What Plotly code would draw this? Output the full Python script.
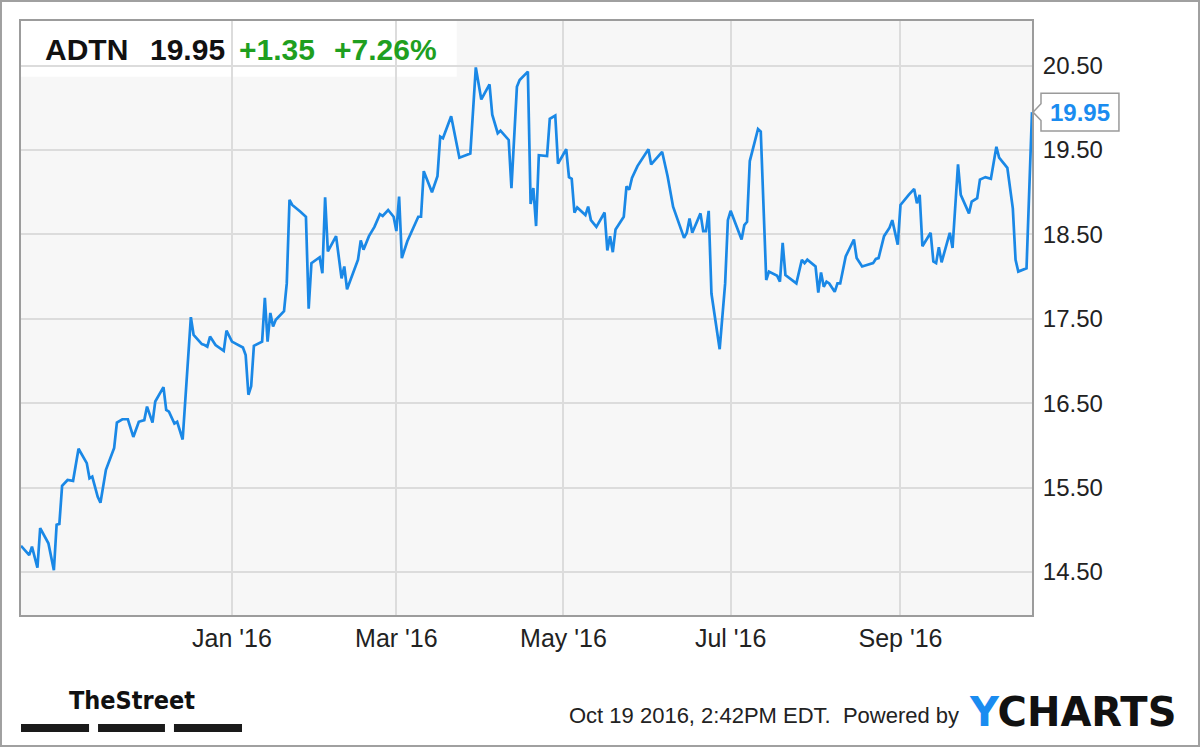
import plotly.graph_objects as go

# ---------------- data ----------------
ticker = "ADTN"
last_price = 19.95
price_change = 1.35
pct_change = 7.26
timestamp = "Oct 19 2016, 2:42PM EDT."

dates = [
    "2015-10-16", "2015-10-19", "2015-10-20", "2015-10-22", "2015-10-23", "2015-10-26", "2015-10-28", "2015-10-29", "2015-10-30", "2015-10-31",
    "2015-11-02", "2015-11-04", "2015-11-06", "2015-11-09", "2015-11-10", "2015-11-11", "2015-11-13", "2015-11-14", "2015-11-16", "2015-11-19",
    "2015-11-20", "2015-11-22", "2015-11-24", "2015-11-26", "2015-11-28", "2015-11-30",
    "2015-12-01", "2015-12-03", "2015-12-04", "2015-12-07", "2015-12-08", "2015-12-09", "2015-12-11", "2015-12-12", "2015-12-14", "2015-12-17",
    "2015-12-18", "2015-12-21", "2015-12-22", "2015-12-23", "2015-12-24", "2015-12-26", "2015-12-29", "2015-12-30",
    "2016-01-01", "2016-01-05", "2016-01-06", "2016-01-07", "2016-01-08", "2016-01-09", "2016-01-12", "2016-01-13", "2016-01-14", "2016-01-15",
    "2016-01-16", "2016-01-17", "2016-01-20", "2016-01-21", "2016-01-22", "2016-01-23", "2016-01-26", "2016-01-28", "2016-01-29", "2016-01-30",
    "2016-02-02", "2016-02-03", "2016-02-04", "2016-02-05", "2016-02-08", "2016-02-10", "2016-02-11", "2016-02-12", "2016-02-16", "2016-02-17",
    "2016-02-18", "2016-02-20", "2016-02-22", "2016-02-24", "2016-02-25", "2016-02-27", "2016-02-29",
    "2016-03-01", "2016-03-02", "2016-03-03", "2016-03-05", "2016-03-08", "2016-03-09", "2016-03-10", "2016-03-11", "2016-03-14", "2016-03-16",
    "2016-03-17", "2016-03-18", "2016-03-21", "2016-03-24", "2016-03-28", "2016-03-30",
    "2016-04-01", "2016-04-04", "2016-04-05", "2016-04-07", "2016-04-08", "2016-04-11", "2016-04-12", "2016-04-14", "2016-04-15", "2016-04-18",
    "2016-04-19", "2016-04-20", "2016-04-21", "2016-04-22", "2016-04-25", "2016-04-26", "2016-04-28", "2016-04-29",
    "2016-05-02", "2016-05-03", "2016-05-04", "2016-05-05", "2016-05-06", "2016-05-09", "2016-05-10", "2016-05-11", "2016-05-13", "2016-05-16",
    "2016-05-17", "2016-05-18", "2016-05-19", "2016-05-20", "2016-05-23", "2016-05-24", "2016-05-25", "2016-05-26", "2016-05-28",
    "2016-06-01", "2016-06-02", "2016-06-06", "2016-06-08", "2016-06-10", "2016-06-14", "2016-06-15", "2016-06-16", "2016-06-17", "2016-06-20",
    "2016-06-21", "2016-06-22", "2016-06-23", "2016-06-24", "2016-06-27", "2016-06-29", "2016-06-30",
    "2016-07-01", "2016-07-05", "2016-07-06", "2016-07-07", "2016-07-08", "2016-07-11", "2016-07-12", "2016-07-14", "2016-07-15", "2016-07-18",
    "2016-07-19", "2016-07-20", "2016-07-21", "2016-07-25", "2016-07-27", "2016-07-28", "2016-07-29",
    "2016-08-01", "2016-08-02", "2016-08-03", "2016-08-04", "2016-08-05", "2016-08-06", "2016-08-08", "2016-08-09", "2016-08-10", "2016-08-12",
    "2016-08-15", "2016-08-16", "2016-08-18", "2016-08-22", "2016-08-23", "2016-08-24", "2016-08-26", "2016-08-28", "2016-08-29", "2016-08-31",
    "2016-09-01", "2016-09-04", "2016-09-06", "2016-09-07", "2016-09-08", "2016-09-09", "2016-09-12", "2016-09-13", "2016-09-14", "2016-09-15",
    "2016-09-16", "2016-09-19", "2016-09-20", "2016-09-22", "2016-09-23", "2016-09-26", "2016-09-27", "2016-09-29", "2016-09-30",
    "2016-10-02", "2016-10-04", "2016-10-06", "2016-10-07", "2016-10-10", "2016-10-12", "2016-10-13", "2016-10-14", "2016-10-17", "2016-10-19",
]

prices = [
    14.81, 14.70, 14.80, 14.55, 15.02, 14.84, 14.52, 15.06, 15.07, 15.52,
    15.59, 15.58, 15.96, 15.79, 15.61, 15.63, 15.39, 15.32, 15.71, 15.97, 16.27, 16.31, 16.31, 16.10, 16.28, 16.30,
    16.46, 16.27, 16.52, 16.69, 16.42, 16.40, 16.26, 16.28, 16.07, 17.52, 17.31, 17.20, 17.19, 17.17, 17.29, 17.19, 17.12, 17.36,
    17.23, 17.16, 17.07, 16.60, 16.70, 17.18, 17.23, 17.75, 17.23, 17.57, 17.41, 17.49, 17.59, 17.92, 18.91, 18.85, 18.77, 18.71, 17.62, 18.16,
    18.23, 18.04, 18.94, 18.30, 18.48, 17.98, 18.12, 17.85, 18.20, 18.43, 18.32, 18.48, 18.59, 18.74, 18.72, 18.79, 18.71,
    18.54, 18.95, 18.22, 18.42, 18.63, 18.71, 18.71, 19.25, 19.00, 19.19, 19.66, 19.64, 19.90, 19.41, 19.46, 20.48,
    20.10, 20.28, 19.92, 19.70, 19.73, 19.62, 19.05, 20.25, 20.33, 20.43, 18.86, 19.05, 18.60, 19.44, 19.43, 19.87, 19.91, 19.34,
    19.51, 19.18, 19.16, 18.76, 18.82, 18.73, 18.83, 18.67, 18.59, 18.76, 18.31, 18.48, 18.29, 18.56, 18.71, 19.07, 19.03, 19.17, 19.31,
    19.51, 19.33, 19.48, 19.19, 18.83, 18.46, 18.52, 18.69, 18.52, 18.75, 18.54, 18.54, 18.78, 17.80, 17.14, 17.92, 18.67,
    18.78, 18.44, 18.61, 18.65, 19.37, 19.75, 19.72, 17.96, 18.06, 18.01, 17.94, 18.40, 18.02, 17.92, 18.20, 18.16, 18.20,
    18.12, 17.81, 18.05, 17.88, 17.94, 17.92, 17.82, 17.92, 17.92, 18.24, 18.44, 18.22, 18.12, 18.16, 18.21, 18.22, 18.48, 18.58, 18.67, 18.38,
    18.85, 18.97, 19.04, 18.87, 18.97, 18.36, 18.52, 18.18, 18.16, 18.35, 18.17, 18.52, 18.34, 19.33, 18.97, 18.75, 18.89, 18.93, 19.15,
    19.18, 19.16, 19.54, 19.41, 19.29, 18.81, 18.20, 18.06, 18.10, 19.95,
]

x_tick_vals = ["2016-01-01", "2016-03-01", "2016-05-01", "2016-07-01", "2016-09-01"]
x_tick_labels = ["Jan '16", "Mar '16", "May '16", "Jul '16", "Sep '16"]
y_tick_vals = [14.5, 15.5, 16.5, 17.5, 18.5, 19.5, 20.5]
y_tick_labels = ["14.50", "15.50", "16.50", "17.50", "18.50", "19.50", "20.50"]

# ---------------- styling ----------------
LINE_BLUE = "#1a88e6"
TEXT_BLUE = "#1a8cf0"
GREEN = "#1f9f1f"
FONT = "Liberation Sans, Arial, Helvetica, sans-serif"
GRID = "#dcdcdc"
FRAME = "#9c9c9c"

fig = go.Figure()
fig.add_trace(go.Scatter(
    x=dates, y=prices, mode="lines",
    line=dict(color=LINE_BLUE, width=2.7),
    hoverinfo="x+y", cliponaxis=False,
))

fig.update_layout(
    width=1200, height=747,
    margin=dict(l=21, r=168, t=21, b=132),
    paper_bgcolor="white", plot_bgcolor="#f7f7f7",
    showlegend=False,
    font=dict(family=FONT, color="#222222"),
)
fig.update_xaxes(
    type="date", range=["2015-10-16", "2016-10-19"],
    tickmode="array", tickvals=x_tick_vals, ticktext=x_tick_labels,
    showgrid=True, gridcolor=GRID, gridwidth=1.5,
    showline=True, linecolor=FRAME, linewidth=2, mirror=True,
    ticks="", ticklabelstandoff=0, zeroline=False,
    tickfont=dict(size=25, color="#222222", family=FONT),
)
fig.update_yaxes(
    side="right", range=[13.99, 21.03],
    tickmode="array", tickvals=y_tick_vals, ticktext=y_tick_labels,
    showgrid=True, gridcolor=GRID, gridwidth=1.5,
    showline=True, linecolor=FRAME, linewidth=2, mirror=True,
    ticks="", ticklabelstandoff=4, zeroline=False,
    tickfont=dict(size=24, color="#222222", family=FONT),
)

shapes = []
# outer frame of the whole image
shapes.append(dict(type="rect", xref="paper", yref="paper",
                   x0=-0.0198, x1=1.1652, y0=-0.2205, y1=1.0337,
                   line=dict(color="#a0a0a0", width=2), fillcolor="rgba(0,0,0,0)", layer="above"))
# header box (under the grid)
shapes.append(dict(type="rect", xref="paper", yref="paper",
                   x0=0, x1=0.431, y0=0.906, y1=1.0,
                   line=dict(width=0), fillcolor="white", layer="below"))
# last-price callout box with pointer
hh, notch = 0.225, 0.10
x0, x1, tip = 1.0089, 1.0860, 1.0010
lp = prices[-1]
path = (f"M {x0},{lp + hh} L {x1},{lp + hh} L {x1},{lp - hh} L {x0},{lp - hh} "
        f"L {x0},{lp - notch} L {tip},{lp} L {x0},{lp + notch} Z")
shapes.append(dict(type="path", xref="paper", yref="y", path=path,
                   line=dict(color="#9a9a9a", width=1.5), fillcolor="white", layer="above"))
# TheStreet logo bars
for bx0, bx1 in [(0.0, 0.0673), (0.0762, 0.1424), (0.1513, 0.2186)]:
    shapes.append(dict(type="rect", xref="paper", yref="paper",
                       x0=bx0, x1=bx1, y0=-0.1970, y1=-0.1835,
                       line=dict(width=0), fillcolor="#1a1a1a", layer="above"))
fig.update_layout(shapes=shapes)

ann = []
hdr_y = 0.9517
ann.append(dict(text=f"<b>{ticker}</b>", x=0.0218, y=hdr_y, xref="paper", yref="paper",
                xanchor="left", yanchor="middle", showarrow=False,
                font=dict(size=30, color="#111111", family=FONT)))
ann.append(dict(text=f"<b>{last_price:.2f}</b>", x=0.1256, y=hdr_y, xref="paper", yref="paper",
                xanchor="left", yanchor="middle", showarrow=False,
                font=dict(size=30, color="#111111", family=FONT)))
ann.append(dict(text=f"<b>+{price_change:.2f}</b>", x=0.2136, y=hdr_y, xref="paper", yref="paper",
                xanchor="left", yanchor="middle", showarrow=False,
                font=dict(size=30, color=GREEN, family=FONT)))
ann.append(dict(text=f"<b>+{pct_change:.2f}%</b>", x=0.3076, y=hdr_y, xref="paper", yref="paper",
                xanchor="left", yanchor="middle", showarrow=False,
                font=dict(size=30, color=GREEN, family=FONT)))
# callout text
ann.append(dict(text=f"<b>{last_price:.2f}</b>", x=1.0475, y=lp, xref="paper", yref="y",
                xanchor="center", yanchor="middle", showarrow=False,
                font=dict(size=24, color=TEXT_BLUE, family=FONT)))
# TheStreet logo text
ann.append(dict(text="<b>TheStreet</b>", x=0.1098, y=-0.1431, xref="paper", yref="paper",
                xanchor="center", yanchor="middle", showarrow=False,
                font=dict(size=25, color="#111111",
                          family="DejaVu Sans Condensed, Liberation Sans Narrow, Arial Narrow, Liberation Sans, sans-serif")))
# footer
ann.append(dict(text=f"{timestamp}\u00a0 Powered by", x=0.5401, y=-0.170, xref="paper", yref="paper",
                xanchor="left", yanchor="middle", showarrow=False,
                font=dict(size=22, color="#222222", family=FONT)))
ann.append(dict(text=f"<b><span style='color:{TEXT_BLUE}'>Y</span>CHARTS</b>", x=0.9357, y=-0.1641,
                xref="paper", yref="paper", xanchor="left", yanchor="middle", showarrow=False,
                font=dict(size=40, color="#111111", family="DejaVu Sans, Liberation Sans, sans-serif")))
fig.update_layout(annotations=ann)

fig.write_html("out.html", config={"displayModeBar": False},
               post_script="document.body.style.margin='0';document.body.style.overflow='hidden';")
